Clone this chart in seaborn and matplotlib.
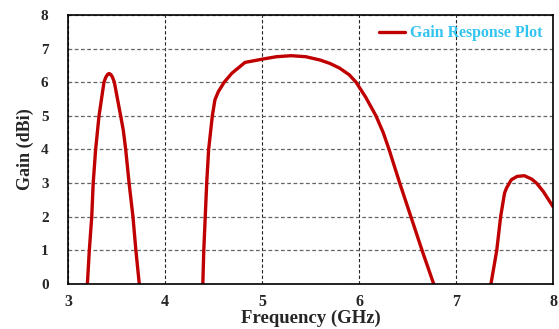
import pandas as pd
import matplotlib.pyplot as plt
import seaborn as sns

# values, split into the three pass bands
freq_band1 = [3.20, 3.22, 3.245, 3.26, 3.285, 3.32, 3.371, 3.39, 3.41, 3.426, 3.445, 3.46, 3.478,
              3.543, 3.57, 3.595, 3.63, 3.67, 3.70, 3.735]
gain_band1 = [0.0, 1.0, 2.0, 3.0, 4.0, 5.0, 6.0, 6.15, 6.24, 6.26, 6.22, 6.14, 6.0,
              5.0, 4.58, 4.0, 3.0, 2.0, 1.0, 0.0]

freq_band2 = [4.39, 4.40, 4.415, 4.43, 4.45, 4.488, 4.515, 4.55, 4.61, 4.69, 4.825, 5.01, 5.15, 5.3,
              5.45, 5.6, 5.7, 5.80, 5.9, 5.97, 6.07, 6.175, 6.25, 6.31, 6.42, 6.535, 6.65, 6.77]
gain_band2 = [0.0, 1.0, 2.0, 3.0, 4.0, 5.0, 5.48, 5.72, 6.0, 6.27, 6.59, 6.69, 6.76, 6.79,
              6.76, 6.66, 6.56, 6.42, 6.22, 6.0, 5.55, 5.0, 4.5, 4.0, 3.0, 2.0, 1.0, 0.0]

freq_band3 = [7.36, 7.42, 7.46, 7.50, 7.52, 7.57, 7.63, 7.705, 7.78, 7.83, 7.9, 8.0]
gain_band3 = [0.0, 1.0, 2.0, 2.7, 2.85, 3.1, 3.2, 3.22, 3.12, 3.0, 2.75, 2.3]

x_ticks = [3, 4, 5, 6, 7, 8]
y_ticks = [0, 1, 2, 3, 4, 5, 6, 7, 8]

sns.set_style('white')
plt.rcParams['font.family'] = ['Liberation Serif', 'DejaVu Serif']
plt.rcParams['font.weight'] = 'bold'

fig = plt.figure(figsize=(5.59, 3.29), dpi=100)
ax = fig.add_axes([0.1216, 0.1368, 0.8677, 0.8176])

line_color = '#c00000'
bands = [(freq_band1, gain_band1), (freq_band2, gain_band2), (freq_band3, gain_band3)]
for i, (f, g) in enumerate(bands):
    df = pd.DataFrame({'freq': f, 'gain': g})
    sns.lineplot(data=df, x='freq', y='gain', ax=ax, color=line_color, linewidth=2.4,
                 sort=False, estimator=None, label='Gain Response Plot' if i == 0 else None)

ax.set_xlim(3, 8)
ax.set_ylim(0, 8)
ax.set_xticks(x_ticks)
ax.set_yticks(y_ticks)
ax.set_xticklabels([str(t) for t in x_ticks], fontsize=11.5, fontweight='bold')
ax.set_yticklabels([str(t) for t in y_ticks], fontsize=11, fontweight='bold')

ax.xaxis.grid(True, linestyle=(0, (3, 2)), color='#222222', linewidth=0.8)
ax.yaxis.grid(True, linestyle=(0, (3, 2)), color='#666666', linewidth=0.9)
ax.tick_params(axis='y', direction='out', length=5, width=1, color='black', pad=9)
ax.tick_params(axis='x', direction='out', length=0, pad=7)

for s in ax.spines.values():
    s.set_color('black')
    s.set_linewidth(1.2)

ax.set_xlabel('Frequency (GHz)', fontsize=13.5, fontweight='bold', labelpad=0)
ax.set_ylabel('Gain (dBi)', fontsize=13, fontweight='bold', labelpad=5)

leg = ax.legend(loc='upper right', frameon=False, fontsize=11.4, handlelength=1.6,
                borderaxespad=0.25, handletextpad=0.35)
for t in leg.get_texts():
    t.set_color('#33c3f0')

fig.savefig('out.png', dpi=100)
